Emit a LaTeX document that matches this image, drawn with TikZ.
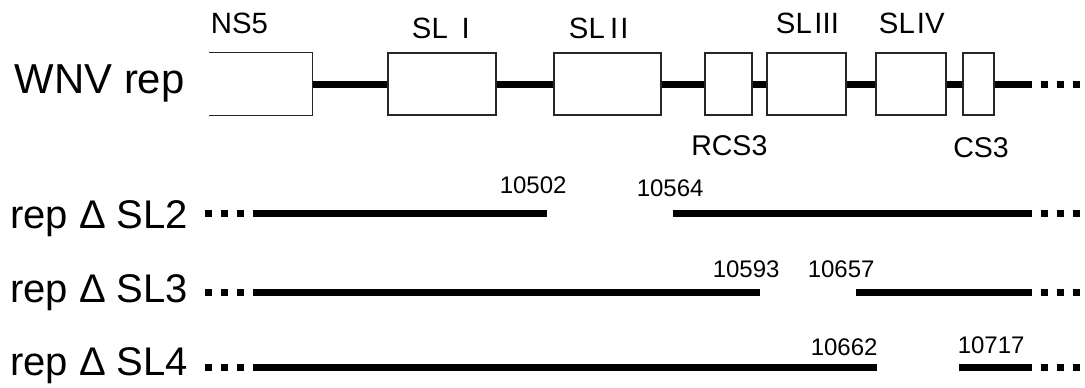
\documentclass[tikz,border=0pt]{standalone}
\usepackage{fontspec}
\setmainfont{Liberation Sans}
\begin{document}
\begin{tikzpicture}[x=0.75pt,y=-0.75pt,
  region/.style={draw=black!85, fill=white, line width=0.9pt, inner sep=0pt, minimum height=46.5pt},
  backbone/.style={line width=5.25pt},
  dotted tail/.style={line width=5.25pt, dash pattern=on 5.25pt off 6.75pt},
  rowlabel/.style={anchor=base west, inner sep=0pt, font=\fontsize{30}{32}\selectfont},
  boxlabel/.style={anchor=base west, inner sep=0pt, font=\fontsize{22}{24}\selectfont},
  endlabel/.style={anchor=base west, inner sep=0pt, font=\fontsize{21.4}{23}\selectfont},
  poslabel/.style={anchor=base west, inner sep=0pt, font=\fontsize{18}{20}\selectfont}]
\useasboundingbox (0,0) rectangle (1085,387);

% ---- full replicon: 3' region with its structural elements ----
\node[rowlabel, font=\fontsize{31.4}{33}\selectfont] (wnv) at (14.5,93) {WNV rep};

\node[region, draw=none, minimum width=76.5pt] (ns5) at (261,84) {};
\draw[line width=0.9pt, black!85] (ns5.north west) -- (ns5.north east) -- (ns5.south east) -- (ns5.south west);
\node[region, minimum width=81pt]    (sl1)  at (442,84)   {};
\node[region, minimum width=80.25pt] (sl2)  at (607.5,84) {};
\node[region, minimum width=35.25pt] (rcs3) at (728.5,84) {};
\node[region, minimum width=59.25pt] (sl3)  at (806.5,84) {};
\node[region, minimum width=52.5pt]  (sl4)  at (911,84)   {};
\node[region, minimum width=23.25pt] (cs3)  at (978.5,84) {};

\draw[backbone] (ns5.east) -- (sl1.west);
\draw[backbone] (sl1.east) -- (sl2.west);
\draw[backbone] (sl2.east) -- (rcs3.west);
\draw[backbone] (rcs3.east) -- (sl3.west);
\draw[backbone] (sl3.east) -- (sl4.west);
\draw[backbone] (sl4.east) -- (cs3.west);
\coordinate (wend) at (1032,84);
\coordinate (wdot) at (1041,84);
\coordinate (wdotend) at (1081,84);
\draw[backbone] (cs3.east) -- (wend);
\draw[dotted tail] (wdot) -- (wdotend);

\node[boxlabel] (lns5) at (210.7,33) {NS5};
\node[boxlabel] (lsl1)  at (411.7,38) {SL\kern10.4pt I};
\node[boxlabel] (lsl2)  at (568.7,38) {SL\kern4pt I\kern1.5pt I};
\node[boxlabel] (lsl3)  at (775.7,33) {SL\kern2pt III};
\node[boxlabel] (lsl4)  at (878.7,33) {SL\kern1.5pt IV};
\node[endlabel] (lrcs3) at (691,155) {RCS3};
\node[endlabel] (lcs3)  at (953,157) {CS3};

% ---- deletion mutants ----
\foreach \name/\y/\base/\txt in {a/213/228/2, b/292/302/3, c/367/375/4}{
  \node[rowlabel] (lab\name) at (10,\base) {rep Δ SL\txt};
  \coordinate (ld\name) at (205,\y);
  \coordinate (lde\name) at (245,\y);
  \draw[dotted tail] (ld\name) -- (lde\name);
  \coordinate (rd\name) at (1041,\y);
  \coordinate (rde\name) at (1081,\y);
  \draw[dotted tail] (rd\name) -- (rde\name);
}

% rep delta SL2
\coordinate (a1) at (253,213);  \coordinate (a2) at (547,213);
\coordinate (a3) at (673,213);  \coordinate (a4) at (1032,213);
\draw[backbone] (a1) -- (a2);
\draw[backbone] (a3) -- (a4);
\node[poslabel] (n10502) at (499.5,193) {10502};
\node[poslabel] (n10564) at (636.5,196) {10564};

% rep delta SL3
\coordinate (b1) at (253,292);  \coordinate (b2) at (760,292);
\coordinate (b3) at (856,292);  \coordinate (b4) at (1032,292);
\draw[backbone] (b1) -- (b2);
\draw[backbone] (b3) -- (b4);
\node[poslabel] (n10593) at (712.5,277) {10593};
\node[poslabel] (n10657) at (807.5,277) {10657};

% rep delta SL4
\coordinate (c1) at (253,367);  \coordinate (c2) at (877,367);
\coordinate (c3) at (959,367);  \coordinate (c4) at (1032,367);
\draw[backbone] (c1) -- (c2);
\draw[backbone] (c3) -- (c4);
\node[poslabel] (n10662) at (810.5,355) {10662};
\node[poslabel] (n10717) at (957.5,353) {10717};
\end{tikzpicture}
\end{document}
